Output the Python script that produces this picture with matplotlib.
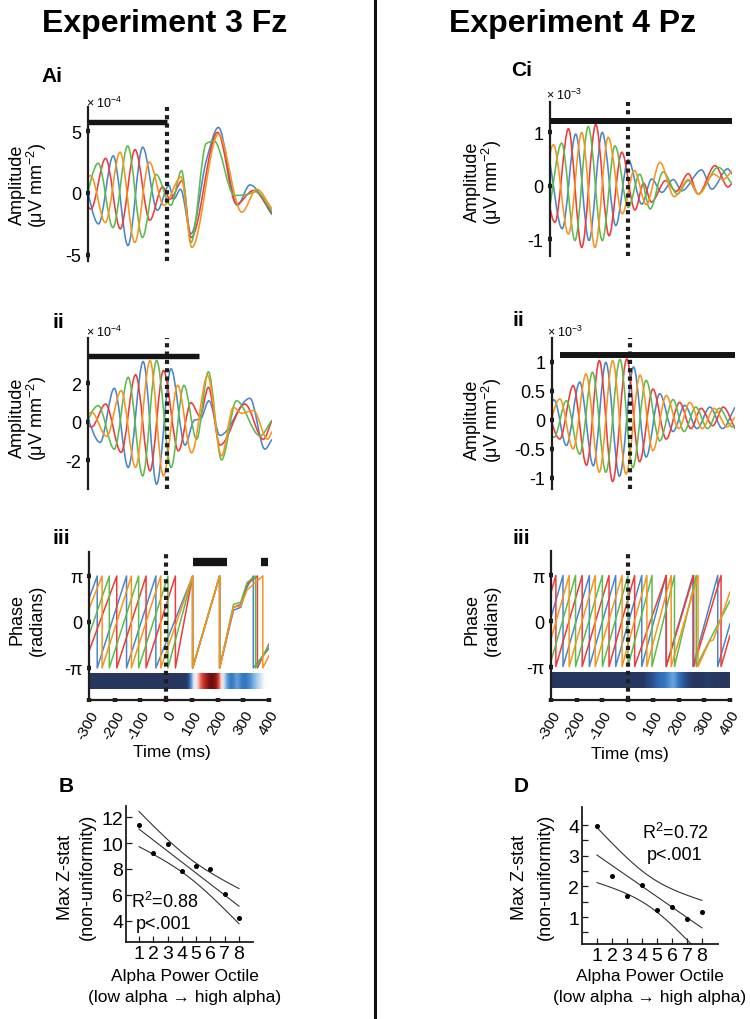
import numpy as np
import matplotlib
matplotlib.use("Agg")
import matplotlib.pyplot as plt
from matplotlib.path import Path
from matplotlib.patches import PathPatch
from matplotlib.colors import LinearSegmentedColormap

plt.rcParams['font.family'] = ['Liberation Sans', 'DejaVu Sans']
plt.rcParams['mathtext.fontset'] = 'custom'
plt.rcParams['mathtext.rm'] = 'Liberation Sans'
plt.rcParams['mathtext.it'] = 'Liberation Sans:italic'
plt.rcParams['mathtext.bf'] = 'Liberation Sans:bold'

PI = np.pi

# ---------------- data: amplitude panels (time ms, value) ----------------
# Ai (x 1e-4)
AI_BLUE = [(-316, 1.3), (-260, -2.5), (-204, 3.0), (-148, -4.25), (-92, 3.7), (-36, -1.4), (8, 0.6),
           (26, -0.5), (52, 0.3), (92, -3.3), (150, 2.6), (196, 5.3), (268, -1.0), (316, 0.65), (400, -1.75)]
AI_RED = [(-345, 1.6), (-289, -1.3), (-233, 2.8), (-177, -2.9), (-121, 3.5), (-65, -2.2), (-16, 0.5),
          (12, -0.5), (59, 1.0), (92, -3.6), (193, 4.9), (265, -0.9), (329, 0.2), (400, -1.6)]
AI_GREEN = [(-317, -1.2), (-261, 2.4), (-205, -2.8), (-149, 3.8), (-93, -3.6), (-41, 1.5), (15, -1.0),
            (56, 1.8), (92, -4.0), (150, 4.0), (180, 4.2), (257, -0.2), (300, -0.15), (340, 0.1), (400, -1.5)]
AI_ORANGE = [(-346, -1.0), (-290, 1.4), (-234, -2.4), (-178, 3.3), (-122, -4.0), (-67, 2.5), (-11, -1.0),
             (54, 1.3), (95, -4.4), (196, 4.75), (285, -1.55), (342, 0.3), (400, -1.3)]

# Aii (x 1e-4)
AII_BLUE = [(-311, 0.5), (-254, -1.06), (-200, 1.75), (-147, -2.36), (-90, 3.14), (-39, -3.23), (16, 2.76),
            (69, -1.2), (105, 0.1), (128, 0.15), (160, 1.1), (202, -0.7), (316, 1.23), (373, -1.41), (400, -0.9)]
AII_ORANGE = [(-340, -0.3), (-286, 0.5), (-229, -0.75), (-174, 1.63), (-119, -2.36), (-64, 3.19), (-13, -2.8),
              (41, 1.9), (94, -1.6), (155, 2.41), (208, -1.76), (253, 0.76), (285, 0.45), (329, 0.6),
              (383, -0.89), (400, -0.5)]
AII_GREEN = [(-317, -0.3), (-261, 0.85), (-200, -1.41), (-147, 2.32), (-92, -2.8), (-39, 3.19), (16, -2.36),
             (65, 1.9), (113, -0.9), (158, 2.6), (208, -1.97), (265, 1.1), (354, -0.72), (400, 0.1)]
AII_RED = [(-340, 0.3), (-286, -0.25), (-233, 0.93), (-174, -1.58), (-119, 2.45), (-64, -2.54), (-13, 2.67),
           (44, -1.5), (92, 1.0), (126, 0.3), (158, 1.8), (202, -1.2), (297, 0.93), (367, -0.9), (400, 0.1)]

# Ci (x 1e-3)
CI_BLUE = [(-304, 0.55), (-253, -0.8), (-201, 0.97), (-150, -1.02), (-99, 1.0), (-47, -0.74), (1, 0.49),
           (53, -0.34), (91, 0.13), (130, -0.12), (174, 0.12), (207, -0.09), (283, 0.3), (322, -0.06),
           (383, 0.32), (400, 0.22)]
CI_ORANGE = [(-333, -0.5), (-287, 0.77), (-229, -0.90), (-178, 1.0), (-127, -1.15), (-76, 0.91), (-22, -0.52),
             (24, 0.29), (70, -0.35), (123, 0.44), (178, -0.2), (232, 0.12), (272, -0.15), (330, 0.22),
             (365, 0.12), (400, 0.28)]
CI_GREEN = [(-306, -0.55), (-255, 0.80), (-204, -1.02), (-153, 1.11), (-99, -1.02), (-50, 0.75), (1, -0.40),
            (45, 0.22), (85, -0.43), (135, 0.26), (190, -0.15), (232, 0.1), (270, -0.15), (347, 0.35), (400, 0.04)]
CI_RED = [(-332, 0.5), (-281, -0.68), (-229, 1.07), (-178, -1.15), (-124, 1.15), (-73, -0.93), (-24, 0.63),
          (27, -0.45), (60, 0.05), (90, -0.3), (145, 0.1), (185, -0.1), (232, 0.23), (270, -0.15),
          (335, 0.38), (385, -0.02), (400, 0.05)]

# Cii (x 1e-3)
CII_BLUE = [(-340, -0.25), (-292, 0.345), (-245, -0.44), (-194, 0.65), (-142, -0.79), (-94, 0.99), (-42, -0.97),
            (12, 0.91), (60, -0.64), (112, 0.45), (163, -0.2), (208, 0.25), (255, -0.15), (304, 0.22),
            (352, -0.15), (400, 0.22)]
CII_ORANGE = [(-320, -0.25), (-270, 0.36), (-219, -0.5), (-170, 0.79), (-119, -0.9), (-68, 1.02), (-17, -0.93),
              (37, 0.77), (86, -0.53), (137, 0.42), (185, -0.15), (227, 0.3), (275, -0.15), (320, 0.2),
              (370, -0.12), (400, 0.05)]
CII_GREEN = [(-345, 0.2), (-292, -0.3), (-245, 0.33), (-194, -0.59), (-145, 0.82), (-94, -0.9), (-40, 1.04),
             (9, -0.82), (60, 0.68), (112, -0.36), (163, 0.35), (205, -0.2), (250, 0.22), (295, -0.15),
             (340, 0.2), (390, -0.12), (400, -0.1)]
CII_RED = [(-320, 0.2), (-270, -0.33), (-219, 0.59), (-168, -0.78), (-119, 1.02), (-68, -1.06), (-14, 1.05),
           (35, -0.72), (86, 0.53), (137, -0.33), (188, 0.3), (232, -0.15), (270, 0.2), (315, -0.1),
           (355, 0.22), (400, -0.15)]

# ---------------- data: phase panels (time ms, radians) ----------------
AIII_BLUE = [(-300, 1.6), (-268, PI), (-268, -PI), (-154, PI), (-154, -PI), (-40, PI), (-40, -PI),
             (103, PI), (103, -PI), (208, PI), (208, -PI), (262, 0.8), (290, 1.0), (315, 2.4),
             (339, PI), (339, -PI), (400, -1.8)]
AIII_ORANGE = [(-300, 0.9), (-249, PI), (-249, -PI), (-135, PI), (-135, -PI), (-21, PI), (-21, -PI),
               (103, PI), (103, -PI), (208, PI), (208, -PI), (262, 1.0), (290, 1.1), (315, 2.2),
               (376, PI), (376, -PI), (400, -2.3)]
AIII_GREEN = [(-300, -0.9), (-221, PI), (-221, -PI), (-107, PI), (-107, -PI), (7, PI), (7, -PI),
              (103, PI), (103, -PI), (208, PI), (208, -PI), (262, 1.2), (290, 1.35), (315, 2.7),
              (348, PI), (348, -PI), (400, -1.6)]
AIII_RED = [(-300, -2.0), (-192, PI), (-192, -PI), (-78, PI), (-78, -PI), (36, PI), (36, -PI),
            (103, PI), (103, -PI), (208, PI), (208, -PI), (262, 1.0), (290, 1.2), (315, 2.6),
            (355, PI), (355, -PI), (400, -1.5)]

CIII_RED = [(-300, 1.97), (-281, PI), (-281, -PI), (-178, PI), (-178, -PI), (-73, PI), (-73, -PI),
            (27, PI), (27, -PI), (151, PI), (151, -PI), (258, PI), (258, -PI), (365, PI), (365, -PI), (400, -1.0)]
CIII_BLUE = [(-300, 0.24), (-253, PI), (-253, -PI), (-150, PI), (-150, -PI), (-47, PI), (-47, -PI),
             (55, PI), (55, -PI), (150, PI), (150, -PI), (255, PI), (255, -PI), (352, PI), (352, -PI), (400, -0.2)]
CIII_ORANGE = [(-300, -1.23), (-229, PI), (-229, -PI), (-127, PI), (-127, -PI), (-22, PI), (-22, -PI),
               (75, PI), (75, -PI), (170, PI), (170, -PI), (275, PI), (275, -PI), (320, -1.4), (335, -1.3),
               (400, 2.0)]
CIII_GREEN = [(-300, -2.77), (-204, PI), (-204, -PI), (-99, PI), (-99, -PI), (1, PI), (1, -PI),
              (95, PI), (95, -PI), (183, PI), (183, -PI), (268, PI), (268, -PI), (400, 1.4)]

# phase-consistency strips: one value per 10 ms bin from -300 to 400
AIII_STRIP = [0.0] * 39 + [0.12, 0.3, 0.45, 0.52, 0.6, 0.7, 0.78, 0.86, 0.95, 1.0, 0.97, 0.88, 0.72, 0.55,
                           0.45, 0.35, 0.28, 0.25, 0.27, 0.32, 0.3, 0.26, 0.24, 0.25, 0.28, 0.32, 0.36, 0.4,
                           0.43, 0.46, 0.49, 0.5]
CIII_STRIP = [0.0] * 37 + [0.04, 0.07, 0.1, 0.13, 0.17, 0.2, 0.22, 0.23, 0.25, 0.28, 0.31, 0.33, 0.3, 0.25,
                           0.2, 0.15, 0.1, 0.06, 0.03] + [0.0, 0.0, 0.0, 0.0, 0.0, 0.03, 0.03, 0.03, 0.0, 0.0,
                                                           0.0, 0.0, 0.0, 0.0, 0.0]

# significance bars (start ms, end ms, height)
AI_BAR = [(-300, 0, 5.7)]
AII_BAR = [(-300, 122, 3.4)]
AIII_BAR = [(106, 238, 4.1), (368, 398, 4.1)]
CI_BAR = [(-300, 400, 1.21)]
CII_BAR = [(-270, 400, 1.12)]

# scatter panels
OCTILE = [1, 2, 3, 4, 5, 6, 7, 8]
B_ZSTAT = [11.4, 9.2, 9.9, 7.85, 8.2, 8.0, 6.1, 4.2]
D_ZSTAT = [3.97, 2.33, 1.67, 2.06, 1.22, 1.32, 0.94, 1.16]

TIME_TICKS = [-300, -200, -100, 0, 100, 200, 300, 400]

C_BLUE, C_RED, C_GREEN, C_ORANGE = '#4A86C8', '#EE3B3B', '#5DBB4C', '#F7941E'
DARK = '#1E1E1E'

W, H = 750, 1020
fig = plt.figure(figsize=(W / 100, H / 100), dpi=100)


def box(x0, y0, x1, y1):
    return [x0 / W, 1 - y1 / H, (x1 - x0) / W, (y1 - y0) / H]


def ftext(x, y, s, **kw):
    fig.text(x / W, 1 - y / H, s, **kw)


def smooth_patch(ax, knots, color):
    t = np.array([k[0] for k in knots], float)
    v = np.array([k[1] for k in knots], float)
    h = np.diff(t)
    d = np.diff(v) / h
    n = len(t)
    m = np.zeros(n)
    for k in range(1, n - 1):
        if d[k - 1] * d[k] > 0:
            w1 = 2 * h[k] + h[k - 1]
            w2 = h[k] + 2 * h[k - 1]
            m[k] = (w1 + w2) / (w1 / d[k - 1] + w2 / d[k])
    m[0] = d[0]
    m[-1] = d[-1]
    verts = [(t[0], v[0])]
    codes = [Path.MOVETO]
    for k in range(n - 1):
        verts += [(t[k] + h[k] / 3, v[k] + m[k] * h[k] / 3),
                  (t[k + 1] - h[k] / 3, v[k + 1] - m[k + 1] * h[k] / 3),
                  (t[k + 1], v[k + 1])]
        codes += [Path.CURVE4] * 3
    patch = PathPatch(Path(verts, codes), facecolor='none', edgecolor=color, lw=1.15,
                      transform=ax.transData, zorder=2)
    ax.add_patch(patch)


def base_axes(rect, ylim, yticks, ylabels, show_x=False):
    ax = fig.add_axes(rect)
    ax.set_xlim(-300, 400)
    ax.set_ylim(*ylim)
    ax.patch.set_alpha(0)
    for s in ['top', 'right']:
        ax.spines[s].set_visible(False)
    ax.spines['left'].set_linewidth(1.6)
    ax.spines['left'].set_color(DARK)
    ax.set_yticks(yticks)
    ax.set_yticklabels(ylabels, fontsize=13)
    ax.tick_params(axis='y', direction='inout', length=3.2, width=3.2, color=DARK, pad=3)
    if show_x:
        ax.spines['bottom'].set_linewidth(1.6)
        ax.spines['bottom'].set_color(DARK)
        ax.set_xticks(TIME_TICKS)
        ax.set_xticklabels([str(v) for v in TIME_TICKS], fontsize=11, rotation=60,
                           ha='right', va='top', rotation_mode='anchor')
        ax.tick_params(axis='x', direction='inout', length=3.2, width=3.2, color=DARK, pad=4)
    else:
        ax.spines['bottom'].set_visible(False)
        ax.set_xticks([])
    ax.axvline(0, color=DARK, lw=3, ls=(0, (1, 1)), dash_capstyle='butt', zorder=4)
    return ax


def draw_bars(ax, bars, lw):
    for t0, t1, y in bars:
        ax.plot([t0, t1], [y, y], color='#151515', lw=lw, solid_capstyle='butt', zorder=5, clip_on=False)


def amp_panel(rect, ylim, yticks, ylabels, series, bars, barlw):
    ax = base_axes(rect, ylim, yticks, ylabels)
    for knots, col in series:
        smooth_patch(ax, knots, col)
    draw_bars(ax, bars, barlw)
    return ax


strip_cmap = LinearSegmentedColormap.from_list('strip', [
    (0.0, '#28375F'), (0.12, '#2B4F8E'), (0.25, '#3479C4'), (0.38, '#8EC0E8'), (0.5, '#FFFFFF'),
    (0.62, '#F0A090'), (0.75, '#D8372E'), (0.88, '#9E1A1A'), (1.0, '#6B0E0E')])


def phase_panel(rect, ylim, series, strip, strip_end, bars):
    ax = base_axes(rect, ylim, [-PI, 0, PI], ['-π', '0', 'π'], show_x=True)
    ax.imshow(np.array([strip]), extent=(-300, strip_end, -4.6, -3.55), aspect='auto',
              cmap=strip_cmap, vmin=0, vmax=1, interpolation='bilinear', zorder=1)
    ax.set_xlim(-300, 400)
    ax.set_ylim(*ylim)
    for knots, col in series:
        ax.plot([k[0] for k in knots], [k[1] for k in knots], color=col, lw=1.1, zorder=2)
    draw_bars(ax, bars, 6)
    return ax


# ---------------- panels ----------------
amp_panel(box(88, 108, 272, 262), (-5.5, 6.95), [-5, 0, 5], ['-5', '0', '5'],
          [(AI_BLUE, C_BLUE), (AI_RED, C_RED), (AI_GREEN, C_GREEN), (AI_ORANGE, C_ORANGE)], AI_BAR, 3.9)
amp_panel(box(88, 339, 272, 490), (-3.48, 4.36), [-2, 0, 2], ['-2', '0', '2'],
          [(AII_BLUE, C_BLUE), (AII_RED, C_RED), (AII_GREEN, C_GREEN), (AII_ORANGE, C_ORANGE)], AII_BAR, 3.9)
phase_panel(box(89, 553, 269, 701), (-5.33, 4.78),
            [(AIII_BLUE, C_BLUE), (AIII_RED, C_RED), (AIII_GREEN, C_GREEN), (AIII_ORANGE, C_ORANGE)],
            AIII_STRIP, 395, AIII_BAR)

amp_panel(box(550, 103, 732, 257), (-1.31, 1.57), [-1, 0, 1], ['-1', '0', '1'],
          [(CI_BLUE, C_BLUE), (CI_RED, C_RED), (CI_GREEN, C_GREEN), (CI_ORANGE, C_ORANGE)], CI_BAR, 4.3)
amp_panel(box(552, 339, 735, 490), (-1.19, 1.41), [-1, -0.5, 0, 0.5, 1], ['-1', '-0.5', '0', '0.5', '1'],
          [(CII_BLUE, C_BLUE), (CII_RED, C_RED), (CII_GREEN, C_GREEN), (CII_ORANGE, C_ORANGE)], CII_BAR, 4.3)
phase_panel(box(551, 552, 730, 701), (-5.45, 4.83),
            [(CIII_BLUE, C_BLUE), (CIII_RED, C_RED), (CIII_GREEN, C_GREEN), (CIII_ORANGE, C_ORANGE)],
            CIII_STRIP, 400, [])


def scatter_panel(rect, yvals, xlim, ylim, yticks, yminor):
    ax = fig.add_axes(rect)
    ax.patch.set_alpha(0)
    x = np.array(OCTILE, float)
    y = np.array(yvals, float)
    slope, icpt = np.polyfit(x, y, 1)
    n = len(x)
    resid = y - (slope * x + icpt)
    s = np.sqrt(np.sum(resid ** 2) / (n - 2))
    sxx = np.sum((x - x.mean()) ** 2)
    xs = np.linspace(1, 8, 80)
    fit = slope * xs + icpt
    half = 2.4469 * s * np.sqrt(1 / n + (xs - x.mean()) ** 2 / sxx)
    ax.plot(xs, fit, color='#333333', lw=0.8)
    ax.plot(xs, fit + half, color='#333333', lw=0.8)
    ax.plot(xs, fit - half, color='#333333', lw=0.8)
    ax.plot(x, y, 'o', ms=2.6, color='k', zorder=3)
    ax.set_xlim(*xlim)
    ax.set_ylim(*ylim)
    for sp in ['top', 'right']:
        ax.spines[sp].set_visible(False)
    for sp in ['left', 'bottom']:
        ax.spines[sp].set_linewidth(1.3)
        ax.spines[sp].set_color(DARK)
    ax.set_xticks(OCTILE)
    ax.set_xticklabels([str(v) for v in OCTILE], fontsize=14)
    ax.set_yticks(yticks)
    ax.set_yticklabels([str(v) for v in yticks], fontsize=14)
    if yminor:
        ax.set_yticks(yminor, minor=True)
    ax.tick_params(axis='both', which='both', direction='in', length=4, width=0.9, color=DARK, pad=2)
    return ax


scatter_panel(box(126, 807, 253, 943), B_ZSTAT, (0.09, 8.98), (2.38, 12.85), [4, 6, 8, 10, 12], [])
scatter_panel(box(582, 808, 718, 945), D_ZSTAT, (0.0, 9.07), (0.12, 4.59), [1, 2, 3, 4], [0.5, 1.5, 2.5, 3.5])

# ---------------- text ----------------
ftext(165, 24, 'Experiment 3 Fz', fontsize=23, fontweight='bold', ha='center', va='center')
ftext(573, 24, 'Experiment 4 Pz', fontsize=23, fontweight='bold', ha='center', va='center')

lab = dict(fontsize=15, fontweight='bold', ha='left', va='center')
ftext(41, 76, 'Ai', **lab)
ftext(52, 322, 'ii', **lab)
ftext(52, 539, 'iii', **lab)
ftext(59, 786, 'B', **lab)
ftext(511, 71, 'Ci', **lab)
ftext(512, 320, 'ii', **lab)
ftext(512, 539, 'iii', **lab)
ftext(514, 786, 'D', **lab)

sm = dict(fontsize=9, ha='left', va='center')
ftext(86, 103, '× 10$^{-4}$', **sm)
ftext(86, 332, '× 10$^{-4}$', **sm)
ftext(546, 95, '× 10$^{-3}$', **sm)
ftext(547, 332, '× 10$^{-3}$', **sm)

yl = dict(fontsize=13, rotation=90, ha='center', va='center')
for (xa, xb, yc, l1, l2) in [(17, 37, 185, 'Amplitude', '(μV mm$^{-2}$)'),
                             (17, 37, 418, 'Amplitude', '(μV mm$^{-2}$)'),
                             (17, 37, 620, 'Phase', '(radians)'),
                             (472, 492, 182, 'Amplitude', '(μV mm$^{-2}$)'),
                             (472, 492, 420, 'Amplitude', '(μV mm$^{-2}$)'),
                             (472, 492, 620, 'Phase', '(radians)'),
                             (65, 87, 877, 'Max Z-stat', '(non-uniformity)'),
                             (520, 545, 877, 'Max Z-stat', '(non-uniformity)')]:
    ftext(xa, yc, l1, **yl)
    ftext(xb, yc, l2, **yl)

ftext(172, 752, 'Time (ms)', fontsize=12.5, ha='center', va='center')
ftext(630, 755, 'Time (ms)', fontsize=12.5, ha='center', va='center')

for xc in (185, 650):
    ftext(xc, 977, 'Alpha Power Octile', fontsize=12.5, ha='center', va='center')
    ftext(xc, 998, '(low alpha → high alpha)', fontsize=12.5, ha='center', va='center')

ftext(131, 902, 'R$^2$=0.88', fontsize=13, ha='left', va='center')
ftext(136, 925, 'p<.001', fontsize=13, ha='left', va='center')
ftext(675, 833, 'R$^2$=0.72', fontsize=13, ha='center', va='center')
ftext(675, 856, 'p<.001', fontsize=13, ha='center', va='center')

# divider
fig.add_artist(plt.Line2D([375 / W, 375 / W], [0, 1], color='#111111', lw=2.2))

fig.savefig('out.png', dpi=100)
